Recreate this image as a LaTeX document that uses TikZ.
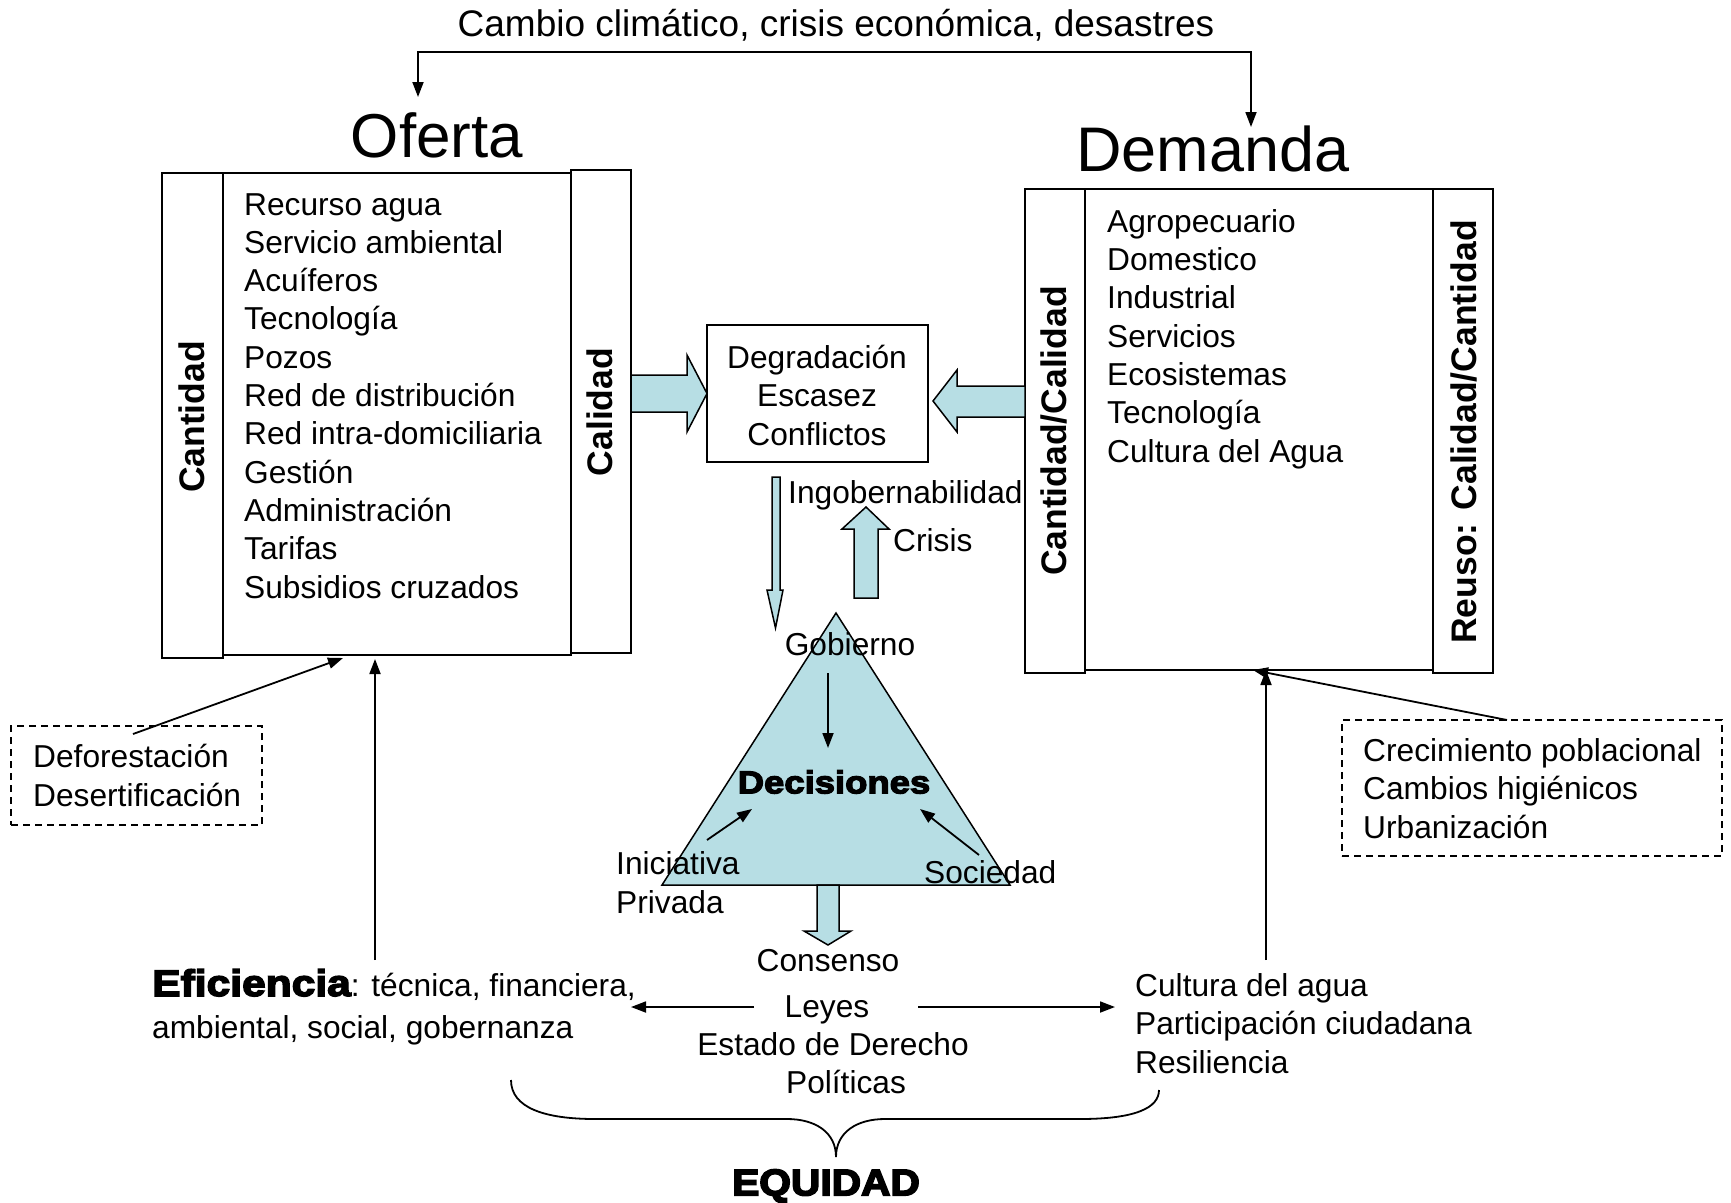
\documentclass[tikz,border=0pt]{standalone}
\usepackage{fontspec}
\setmainfont{Liberation Sans}
\newfontfamily\blackfont{Liberation Sans Bold}[FakeBold=4,FakeStretch=1.15]
\newfontfamily\blackwide{Liberation Sans Bold}[FakeBold=4.5,FakeStretch=1.1]
\usetikzlibrary{arrows.meta}
\definecolor{lblue}{RGB}{183,222,228}
\newcommand\fsz[1]{\fontsize{#1}{38.3}\selectfont}
\begin{document}
\begin{tikzpicture}[x=1pt,y=-1pt,line join=miter,
  txt/.style={inner sep=0,font=\fsz{31.7}},
  lst/.style={txt,align=left,anchor=base west},
  ctr/.style={txt,anchor=base},
  vlab/.style={inner sep=0,font=\fsz{35.5}\bfseries,rotate=90},
  rect/.style={draw,line width=2,inner sep=0},
  dbox/.style={draw,dashed,dash pattern=on 7 off 5,line width=1.5,inner sep=0},
  arr/.style={line width=1.8,-{Triangle[length=15,width=11]}},
  blk/.style={draw,line width=1.5,fill=lblue}]
\useasboundingbox (0,0) rectangle (1731,1202);

% top connector
\node[inner sep=0,anchor=base,font=\fsz{37}] (top) at (836,36) {Cambio climático, crisis económica, desastres};
\coordinate (tl) at (418,97);
\coordinate (tm) at (1251,52);
\coordinate (tr) at (1251,127);
\draw[line width=1.8,{Triangle[length=15,width=11]}-{Triangle[length=15,width=11]}] (tl) |- (tm) -- (tr);

% titles
\node[inner sep=0,anchor=base,font=\fontsize{62}{70}\selectfont] (of) at (437,157) {Oferta};
\node[inner sep=0,anchor=base,font=\fontsize{63}{70}\selectfont] (de) at (1213,171) {Demanda};

% Oferta boxes
\node[rect,minimum width=61,minimum height=485] (qL) at (192.5,415.5) {};
\node[rect,minimum width=348,minimum height=482] (oM) at (397,414) {};
\node[rect,minimum width=60,minimum height=483] (cL) at (601,411.5) {};
\node[vlab] (qLt) at (192,417) {Cantidad};
\node[vlab] (cLt) at (600,412) {Calidad};
\node[lst] (olist) at (244,598) {Recurso agua\\Servicio ambiental\\Acuíferos\\Tecnología\\Pozos\\Red de distribución\\Red intra-domiciliaria\\Gestión\\Administración\\Tarifas\\Subsidios cruzados};

% Demanda boxes
\node[rect,minimum width=60,minimum height=484] (dL) at (1055,431) {};
\node[rect,minimum width=348,minimum height=481] (dM) at (1259,429.5) {};
\node[rect,minimum width=60,minimum height=484] (dR) at (1463,431) {};
\node[vlab] (dLt) at (1054,431) {Cantidad/Calidad};
\node[vlab] (dRt) at (1464,432) {Reuso: Calidad/Cantidad};
\node[lst] (dlist) at (1107,462) {Agropecuario\\Domestico\\Industrial\\Servicios\\Ecosistemas\\Tecnología\\Cultura del Agua};

% center box
\node[rect,minimum width=221,minimum height=137] (cb) at (817.5,393.5) {};
\node[txt,align=center,anchor=base] (cbt) at (817,445) {Degradación\\Escasez\\Conflictos};

% block arrows
\draw[blk] (631,375) -- (687,375) -- (687,355) -- (707,393.5) -- (687,432) -- (687,412) -- (631,412) -- cycle;
\draw[blk] (1025,386) -- (957,386) -- (957,370) -- (933,401) -- (957,432) -- (957,417) -- (1025,417) -- cycle;
\draw[blk] (772,477) -- (780,477) -- (780,590) -- (783,590) -- (775.5,628) -- (767,590) -- (772,590) -- cycle;
\draw[blk] (854,598) -- (854,529) -- (842,529) -- (866,507) -- (889,529) -- (878,529) -- (878,598) -- cycle;

\node[lst] (ingo) at (788,503) {Ingobernabilidad};
\node[lst] (cris) at (893,551) {Crisis};

% triangle
\draw[blk] (836,613) -- (1010,885) -- (662,885) -- cycle;
\draw[blk] (817,885) -- (817,931) -- (804,931) -- (828,945) -- (851,931) -- (839,931) -- (839,885) -- cycle;
\node[ctr] (gob) at (850,655) {Gobierno};
\node[inner sep=0,font=\blackfont\fontsize{31.7}{38}\selectfont] (dec) at (834,782) {Decisiones};
\node[lst] (ini) at (616,913) {Iniciativa\\Privada};
\node[lst] (soc) at (924,883) {Sociedad};
\coordinate (g1) at (828,673);
\coordinate (g2) at (828,748);
\coordinate (i1) at (707,840);
\coordinate (i2) at (752,809);
\coordinate (s1) at (979,855);
\coordinate (s2) at (920,809);
\draw[arr] (g1) -- (g2);
\draw[arr] (i1) -- (i2);
\draw[arr] (s1) -- (s2);

% bottom centre
\node[ctr] (cons) at (828,971) {Consenso};
\node[ctr] (ley) at (827,1017) {Leyes};
\node[ctr] (est) at (833,1055) {Estado de Derecho};
\node[ctr] (pol) at (846,1093) {Políticas};
\coordinate (la) at (754,1007);
\coordinate (lb) at (631,1007);
\coordinate (ra) at (918,1007);
\coordinate (rb) at (1115,1007);
\draw[arr] (la) -- (lb);
\draw[arr] (ra) -- (rb);

% Eficiencia
\node[lst] (ef1) at (152,996) {{\blackfont\fontsize{37}{40}\selectfont Eficiencia}: técnica, financiera,};
\node[lst] (ef2) at (152,1038) {ambiental, social, gobernanza};

% Cultura
\node[lst] (cul) at (1135,1073) {Cultura del agua\\Participación ciudadana\\Resiliencia};

% dashed boxes
\node[dbox,minimum width=251,minimum height=99] (defb) at (136.5,775.5) {};
\node[lst] (deft) at (33,806) {Deforestación\\Desertificación};
\node[dbox,minimum width=380,minimum height=136] (creb) at (1532,788) {};
\node[lst] (cret) at (1363,838) {Crecimiento poblacional\\Cambios higiénicos\\Urbanización};

% arrows to boxes
\coordinate (d1) at (133,734);
\coordinate (d2) at (343,658);
\coordinate (v1) at (375,960);
\coordinate (v2) at (375,659);
\coordinate (w1) at (1266,960);
\coordinate (w2) at (1266,670);
\coordinate (c1) at (1507,720);
\coordinate (c2) at (1253,670);
\draw[arr] (d1) -- (d2);
\draw[arr] (v1) -- (v2);
\draw[arr] (w1) -- (w2);
\draw[arr] (c1) -- (c2);

% brace
\draw[line width=1.8] (511,1080) .. controls (511,1108) and (545,1119) .. (595,1119) -- (787,1119)
  .. controls (815,1119) and (836,1132) .. (836,1157)
  .. controls (836,1132) and (857,1119) .. (885,1119) -- (1080,1119)
  .. controls (1135,1119) and (1159,1108) .. (1159,1090);
\node[inner sep=0,font=\blackwide\fontsize{37}{40}\selectfont] (eq) at (826,1186) {EQUIDAD};
\end{tikzpicture}
\end{document}
